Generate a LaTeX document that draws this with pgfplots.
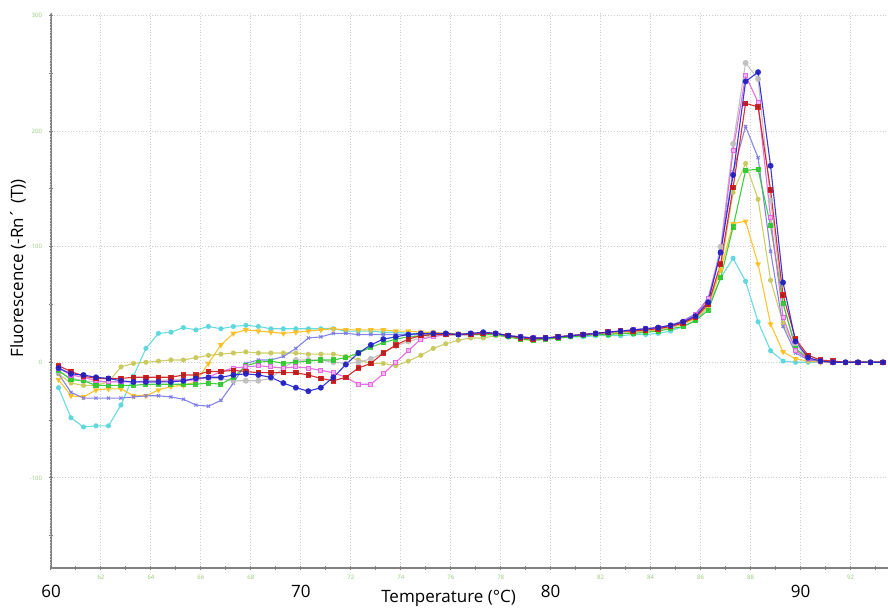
\documentclass[border=0pt]{standalone}
\usepackage{fontspec}
\setmainfont{Open Sans}
\usepackage{pgfplots}
\usepackage{pgfplotstable}
\pgfplotsset{compat=1.18}
\definecolor{cRed}{RGB}{210,25,25}
\definecolor{cBlue}{RGB}{35,35,210}
\definecolor{cGreen}{RGB}{45,200,45}
\definecolor{cGray}{RGB}{190,190,190}
\definecolor{cMag}{RGB}{225,95,225}
\definecolor{cMagF}{RGB}{245,180,245}
\definecolor{cCyan}{RGB}{90,215,220}
\definecolor{cOlive}{RGB}{200,200,90}
\definecolor{cOrange}{RGB}{255,190,30}
\definecolor{cSlate}{RGB}{120,120,230}
\definecolor{tickgreen}{RGB}{150,200,120}

\pgfplotstableread{
x red blue green gray mag cyan olive orange slate
60.3 -3 -5 -7 -8 -5 -22 -10 -15 -10
60.8 -8 -10 -15 -14 -11 -48 -18 -29 -26
61.3 -12 -11 -16 -16 -13 -56 -20 -30 -31
61.8 -14 -13 -20 -17 -16 -55 -20 -24 -31
62.3 -14 -14 -20 -17 -17 -55 -17 -23 -31
62.8 -14 -16 -20 -17 -17 -37 -4 -23 -31
63.3 -13 -17 -20 -17 -17 -12 -1 -29 -30
63.8 -13 -17 -19 -16 -17 12 0 -29 -29
64.3 -13 -17 -19 -16 -17 25 1 -24 -29
64.8 -13 -17 -19 -15 -16 26 2 -21 -30
65.3 -11 -16 -19 -15 -16 30 2 -20 -32
65.8 -11 -14 -19 -14 -15 28 4 -17 -37
66.3 -8 -13 -18 -14 -13 31 6 -1 -38
66.8 -8 -13 -19 -14 -8 29 7 15 -33
67.3 -7 -11 -13 -16 -5 31 8 25 -18
67.8 -8 -10 -3 -16 -4 32 9 28 -1
68.3 -9 -11 0 -16 -3 31 8 27 2
68.8 -9 -13 1 -14 -4 29 8 26 2
69.3 -9 -18 -1 -5 -5 29 8 25 5
69.8 -9 -22 0 2 -4 29 8 26 12
70.3 -11 -25 1 2 -5 29 7 27 21
70.8 -14 -22 2 2 -7 29 7 28 22
71.3 -16 -13 2 0 -9 29 7 29 25
71.8 -13 -2 4 -1 -13 27 5 28 25
72.3 -5 8 8 0 -19 27 2 28 24
72.8 -1 15 13 3 -19 27 -1 28 24
73.3 8 20 17 8 -10 26 -1 28 24
73.8 15 22 20 14 0 26 -3 27 24
74.3 20 24 22 18 10 25 1 27 24
74.8 23 25 23 21 20 25 6 26 24
75.3 24 25 24 23 22 25 12 26 24
75.8 24 25 24 24 24 24 16 25 24
76.3 24 24 24 24 24 24 19 25 24
76.8 24 25 24 24 25 24 21 25 24
77.3 25 26 24 24 25 24 21 25 25
77.8 25 25 24 24 25 24 23 25 25
78.3 23 23 22 22 23 22 22 23 23
78.8 21 22 20 21 22 21 20 21 22
79.3 20 21 19 20 21 20 19 21 21
79.8 21 21 20 21 21 20 20 21 21
80.3 22 22 21 22 22 21 21 22 22
80.8 23 23 22 23 23 22 22 23 23
81.3 24 24 23 24 24 22 23 24 24
81.8 25 25 24 25 25 23 24 25 25
82.3 26 26 24 26 26 23 24 25 26
82.8 27 27 25 27 27 23 25 26 27
83.3 27 28 25 27 28 24 26 27 28
83.8 28 29 26 28 29 24 27 28 29
84.3 29 30 27 29 30 25 28 29 30
84.8 31 32 29 31 32 27 30 31 32
85.3 34 35 31 34 35 31 33 33 36
85.8 39 40 36 40 41 36 38 38 42
86.3 50 52 45 53 55 48 50 48 55
86.8 85 95 73 100 95 73 80 80 97
87.3 151 162 117 189 183 90 147 120 165
87.8 224 243 166 259 248 70 172 122 204
88.3 221 251 167 245 225 35 141 85 177
88.8 149 170 118 140 125 10 71 33 96
89.3 58 69 51 50 39 1 34 9 31
89.8 20 18 12 15 10 0 12 3 8
90.3 6 4 3 4 3 0 3 1 2
90.8 2 1 1 1 1 0 1 0 1
91.3 1 0 0 0 0 0 0 0 0
91.8 0 0 0 0 0 0 0 0 0
92.3 0 0 0 0 0 0 0 0 0
92.8 0 0 0 0 0 0 0 0 0
93.3 0 0 0 0 0 0 0 0 0
}\melt

\newcommand{\bigtl}[1]{{\fontsize{8.5}{10}\selectfont\color{black}#1}}

\begin{document}
\begin{tikzpicture}
\begin{axis}[
  at={(0,0)}, anchor=south west,
  scale only axis, width=418.5pt, height=277.4pt,
  xmin=60, xmax=93.5, ymin=-178, ymax=302,
  axis x line*=bottom, axis y line*=left,
  axis line style={draw=gray, line width=0.7pt, -},
  /pgf/number format/assume math mode=true,
  xtick={62,64,66,68,72,74,76,78,82,84,86,88,92},
  minor xtick={61,63,...,93},
  ytick={-100,0,100,200,300},
  minor ytick={-150,-50,50,150,250},
  grid=major,
  major grid style={densely dotted, gray!40, line width=0.5pt},
  tick style={draw=gray, line width=0.5pt},
  major tick length=2pt, minor tick length=2pt,
  tick align=center,
  x tick label style={font=\fontsize{3}{3}\selectfont, text=tickgreen, yshift=1pt},
  y tick label style={font=\fontsize{3}{3}\selectfont, text=tickgreen},
  extra x ticks={60,70,80,90},
  extra x tick labels={\bigtl{60},\bigtl{70},\bigtl{80},\bigtl{90}},
  extra x tick style={grid=major, tick label style={yshift=-5pt}},
  xlabel={Temperature (°C)},
  xlabel style={font=\fontsize{8.5}{10}\selectfont, at={(axis description cs:0.475,-0.054)}, anchor=center},
  ylabel={Fluorescence (-Rn´ (T))},
  ylabel style={font=\fontsize{8.5}{10}\selectfont, at={(axis description cs:-0.0394,0.54)}, anchor=center},
  every axis plot/.append style={line width=0.55pt, mark size=1.2pt, opacity=0.9},
  clip=true,
]
\addplot[cCyan, mark=*, mark size=1.0pt, mark options={fill=cCyan}] table[x=x,y=cyan]{\melt};
\addplot[cOlive, mark=*, mark size=1.0pt, mark options={fill=cOlive}] table[x=x,y=olive]{\melt};
\addplot[cOrange, mark=triangle*, mark options={fill=cOrange, rotate=180}] table[x=x,y=orange]{\melt};
\addplot[cSlate, mark=x, mark size=1.1pt] table[x=x,y=slate]{\melt};
\addplot[cGray, mark=*, mark options={fill=cGray}] table[x=x,y=gray]{\melt};
\addplot[cGreen, mark=square*, mark size=1.0pt, mark options={fill=cGreen}] table[x=x,y=green]{\melt};
\addplot[cMag, mark=square*, mark size=1.0pt, mark options={fill=cMagF, draw=cMag}] table[x=x,y=mag]{\melt};
\addplot[cRed, mark=square*, mark size=1.1pt, mark options={fill=cRed!85!black}] table[x=x,y=red]{\melt};
\addplot[cBlue, mark=*, mark size=1.2pt, mark options={fill=cBlue!85!black}] table[x=x,y=blue]{\melt};
\end{axis}
\pgfresetboundingbox
\path (-25.5pt,-19.5pt) rectangle (418.5pt,284pt);
\end{tikzpicture}
\end{document}
